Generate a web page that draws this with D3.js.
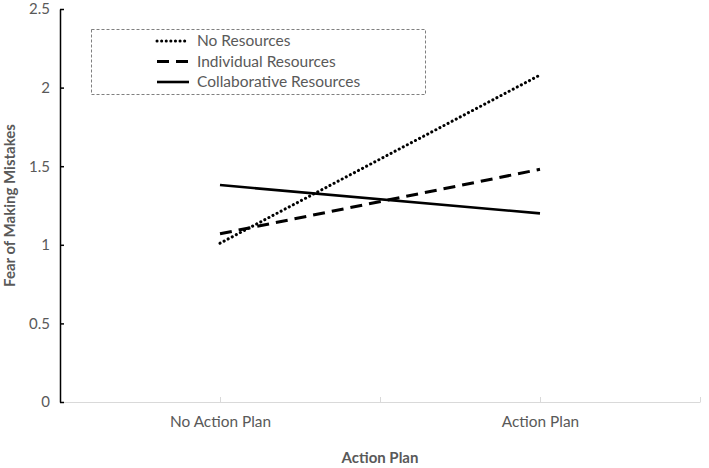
<!DOCTYPE html>
<html>
<head>
<meta charset="utf-8">
<script src="https://cdn.jsdelivr.net/npm/d3@7"></script>
<style>
  body { margin: 0; background: #fff; }
  text { font-family: Lato, "Open Sans", sans-serif; }
</style>
</head>
<body>
<div id="chart"></div>
<script>
// categories on the x axis
const categories = ["No Action Plan", "Action Plan"];
// one series per resource condition
const seriesNames = ["No Resources", "Individual Resources", "Collaborative Resources"];
const noResources = [1.01, 2.08];
const individualResources = [1.07, 1.48];
const collaborativeResources = [1.38, 1.20];
const yTicks = [0, 0.5, 1, 1.5, 2, 2.5];

const W = 709, H = 468;
const margin = {top: 9, right: 9, bottom: 66, left: 60};

const svg = d3.select("#chart")
  .append("svg")
    .attr("width", W)
    .attr("height", H);

svg.append("rect").attr("width", W).attr("height", H).attr("fill", "#fff");

const x = d3.scalePoint()
  .domain(categories)
  .range([margin.left, W - margin.right])
  .padding(0.5);

const y = d3.scaleLinear()
  .domain([0, 2.5])
  .range([H - margin.bottom, margin.top]);

// x axis, light grey, ticks between and at categories
const xTickScale = d3.scaleLinear().domain([0, 2]).range([margin.left, W - margin.right]);
const xAxisG = svg.append("g")
  .attr("transform", "translate(0," + y(0) + ")")
  .call(d3.axisBottom(xTickScale).tickValues([0, 0.5, 1, 1.5, 2]).tickFormat("").tickSizeInner(-5).tickSizeOuter(0));
xAxisG.selectAll("path, line").attr("stroke", "#d9d9d9");

const xLab = svg.append("g")
  .attr("transform", "translate(0," + y(0) + ")")
  .call(d3.axisBottom(x).tickSize(0).tickPadding(14));
xLab.select(".domain").remove();
xLab.selectAll("text").attr("font-size", 15.4).attr("fill", "#595959").style("font-family", "Lato");

// y axis, black with inward ticks
const yAxisG = svg.append("g")
  .attr("transform", "translate(" + margin.left + ",0)")
  .call(d3.axisLeft(y).tickValues(yTicks).tickFormat(d => d).tickSizeInner(-4).tickSizeOuter(0).tickPadding(10));
yAxisG.select(".domain").attr("stroke", "#000").attr("stroke-width", 1.5);
yAxisG.selectAll("line").attr("stroke", "#000").attr("stroke-width", 1.5);
yAxisG.selectAll("text").attr("font-size", 15).attr("fill", "#595959").style("font-family", "Lato");

// axis titles
svg.append("text")
  .attr("x", (margin.left + W - margin.right) / 2)
  .attr("y", 463)
  .attr("text-anchor", "middle")
  .attr("font-size", 15)
  .attr("font-weight", "bold")
  .attr("fill", "#595959")
  .text("Action Plan");

svg.append("text")
  .attr("transform", "translate(15," + (y(0) + y(2.5)) / 2 + ") rotate(-90)")
  .attr("text-anchor", "middle")
  .attr("font-size", 15)
  .attr("font-weight", "bold")
  .attr("fill", "#595959")
  .text("Fear of Making Mistakes");

// line styles per series
const styles = [
  {dash: "0.1 4.5", width: 3, cap: "round"},
  {dash: "12 7", width: 3, cap: "butt"},
  {dash: null, width: 2.6, cap: "butt"}
];
const allSeries = [noResources, individualResources, collaborativeResources];

const line = d3.line()
  .x((d, i) => x(categories[i]))
  .y(d => y(d));

svg.selectAll(".series")
  .data(allSeries)
  .enter()
  .append("path")
    .attr("class", "series")
    .attr("d", d => line(d))
    .attr("fill", "none")
    .attr("stroke", "#000")
    .attr("stroke-width", (d, i) => styles[i].width)
    .attr("stroke-dasharray", (d, i) => styles[i].dash)
    .attr("stroke-linecap", (d, i) => styles[i].cap);

// legend
const legend = svg.append("g");
legend.append("rect")
  .attr("x", 91.5).attr("y", 29.5)
  .attr("width", 334).attr("height", 65)
  .attr("fill", "#fff")
  .attr("stroke", "#7f7f7f")
  .attr("stroke-width", 1)
  .attr("stroke-dasharray", "3 2");

const rows = legend.selectAll(".row")
  .data(seriesNames)
  .enter()
  .append("g")
    .attr("class", "row")
    .attr("transform", (d, i) => "translate(0," + (41 + i * 20.5) + ")");

rows.append("line")
  .attr("x1", 157).attr("x2", 189)
  .attr("stroke", "#000")
  .attr("stroke-width", (d, i) => styles[i].width)
  .attr("stroke-dasharray", (d, i) => styles[i].dash)
  .attr("stroke-linecap", (d, i) => styles[i].cap);

rows.append("text")
  .attr("x", 197)
  .attr("dy", "0.35em")
  .attr("font-size", 15.5)
  .attr("fill", "#595959")
  .text(d => d);
</script>
</body>
</html>
